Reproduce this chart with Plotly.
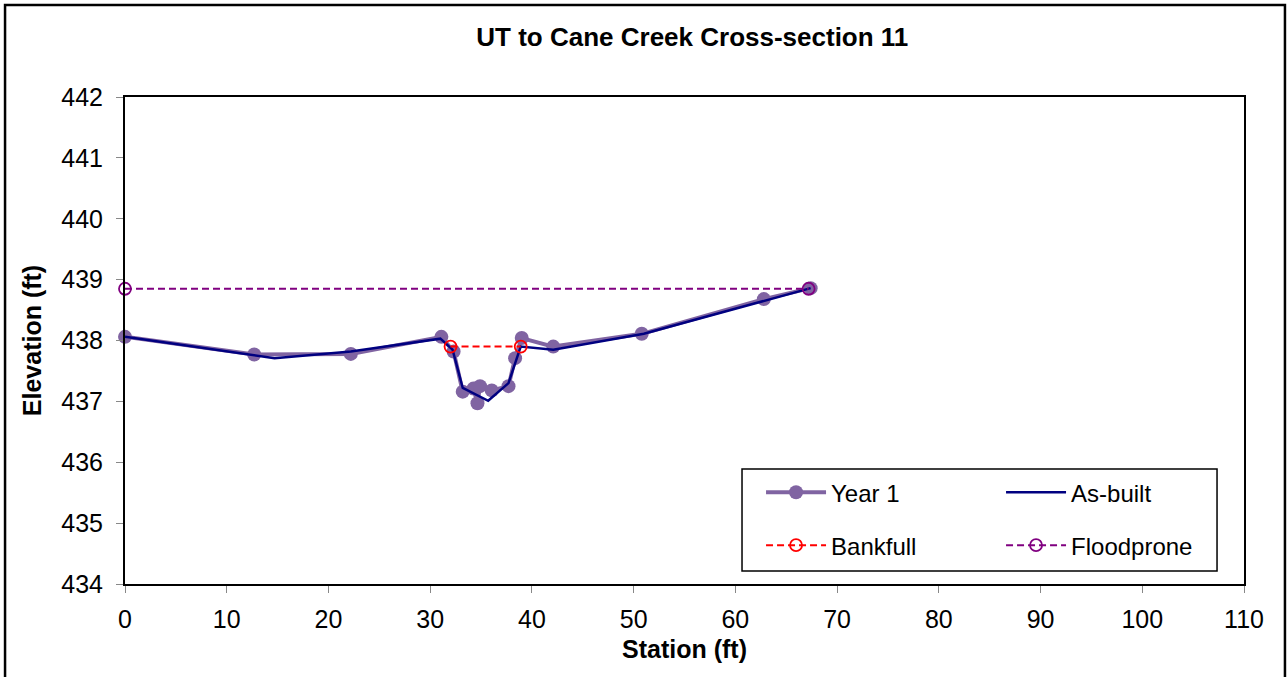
import plotly.graph_objects as go

# ---- data ----
year1_station = [0.0, 12.7, 22.2, 31.1, 32.3, 33.2, 34.25, 34.65, 34.9, 36.05, 37.7, 38.35, 39.0, 42.1, 50.8, 62.8, 67.4]
year1_elev = [438.06, 437.77, 437.78, 438.06, 437.82, 437.16, 437.21, 436.97, 437.25, 437.18, 437.25, 437.71, 438.04, 437.90, 438.11, 438.68, 438.86]

asbuilt_station = [0.0, 14.7, 22.2, 31.0, 32.2, 33.2, 35.7, 37.7, 38.9, 42.1, 51.0, 67.4]
asbuilt_elev = [438.06, 437.71, 437.82, 438.03, 437.85, 437.22, 437.01, 437.30, 437.90, 437.85, 438.11, 438.86]

bankfull_station = [32.0, 38.9]
bankfull_elev = [437.90, 437.90]

floodprone_station = [0.0, 67.2]
floodprone_elev = [438.85, 438.85]

x_ticks = [0, 10, 20, 30, 40, 50, 60, 70, 80, 90, 100, 110]
y_ticks = [434, 435, 436, 437, 438, 439, 440, 441, 442]

FONT = "Arial, Liberation Sans, sans-serif"

fig = go.Figure()

fig.add_trace(go.Scatter(
    x=year1_station, y=year1_elev, name="Year 1", mode="lines+markers",
    line=dict(color="rgb(128,100,162)", width=4),
    marker=dict(color="rgb(128,100,162)", size=14, symbol="circle"),
    cliponaxis=False, legend="legend"))
fig.add_trace(go.Scatter(
    x=asbuilt_station, y=asbuilt_elev, name="As-built", mode="lines",
    line=dict(color="#000080", width=2.5),
    cliponaxis=False, legend="legend"))
fig.add_trace(go.Scatter(
    x=bankfull_station, y=bankfull_elev, name="Bankfull", mode="lines+markers",
    line=dict(color="#FF0000", width=2, dash="7px,4px"),
    marker=dict(symbol="circle-open", size=12, color="#FF0000", line=dict(width=1.8)),
    cliponaxis=False, legend="legend2"))
fig.add_trace(go.Scatter(
    x=floodprone_station, y=floodprone_elev, name="Floodprone", mode="lines+markers",
    line=dict(color="#800080", width=2, dash="7px,4px"),
    marker=dict(symbol="circle-open", size=12, color="#800080", line=dict(width=1.8)),
    cliponaxis=False, legend="legend2"))

legend_common = dict(
    orientation="h", xanchor="left", yanchor="middle",
    font=dict(family=FONT, size=24, color="black"),
    bgcolor="rgba(0,0,0,0)", borderwidth=0,
    itemwidth=60, entrywidthmode="pixels", entrywidth=165,
    x=0.5684,
)

fig.update_layout(
    width=1288, height=677,
    margin=dict(l=125, r=44, t=97, b=93),
    paper_bgcolor="white", plot_bgcolor="white",
    font=dict(family=FONT, color="black"),
    title=dict(text="<b>UT to Cane Creek Cross-section 11</b>",
               font=dict(family=FONT, size=26, color="black"),
               x=0.507, xref="paper", xanchor="center", y=0.9453, yanchor="middle"),
    xaxis=dict(range=[0, 110], tickvals=x_ticks, ticktext=[str(v) for v in x_ticks],
               showgrid=False, zeroline=False,
               showline=True, linecolor="black", linewidth=2, mirror=True,
               ticks="outside", ticklen=7, tickcolor="#888888", tickwidth=1,
               ticklabelstandoff=5,
               tickfont=dict(family=FONT, size=25, color="black"),
               title=dict(text="<b>Station (ft)</b>", font=dict(family=FONT, size=25, color="black"),
                          standoff=8)),
    yaxis=dict(range=[434, 442], tickvals=y_ticks, ticktext=[str(v) for v in y_ticks],
               showgrid=False, zeroline=False,
               showline=True, linecolor="black", linewidth=2, mirror=True,
               ticks="outside", ticklen=7, tickcolor="#888888", tickwidth=1,
               ticklabelstandoff=8,
               tickfont=dict(family=FONT, size=25, color="black"),
               title=dict(text="<b>Elevation (ft)</b>", font=dict(family=FONT, size=25, color="black"),
                          standoff=13)),
    legend=dict(y=0.1877, **legend_common),
    legend2=dict(y=0.079, **legend_common),
    shapes=[
        # legend box
        dict(type="rect", xref="paper", yref="paper",
             x0=0.5514, x1=0.9759, y0=0.0267, y1=0.2361,
             line=dict(color="black", width=1.5), fillcolor="white", layer="below"),
        # outer chart border
        dict(type="rect", xref="paper", yref="paper",
             x0=-0.1072, x1=1.0366, y0=-0.25, y1=1.189,
             line=dict(color="black", width=2.5), fillcolor="rgba(0,0,0,0)", layer="below"),
    ],
)

fig.write_html("out.html", config={"displayModeBar": False},
               post_script="document.body.style.margin='0';")
